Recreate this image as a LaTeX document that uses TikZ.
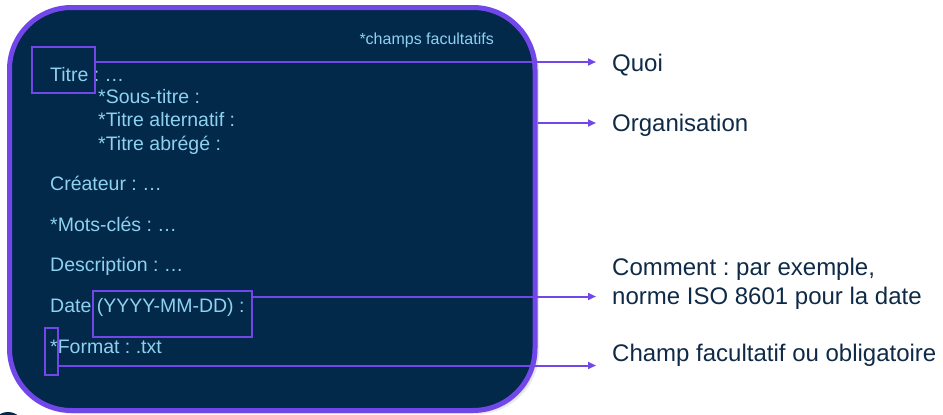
\documentclass[tikz,border=0pt]{standalone}
\usepackage{fontspec}
\setmainfont{Liberation Sans}
\usetikzlibrary{arrows.meta}
\definecolor{navy}{HTML}{02284A}
\definecolor{lblue}{HTML}{8ED2F0}
\definecolor{violet}{HTML}{7247EA}
\definecolor{ink}{HTML}{0E2A47}
\frenchspacing
\begin{document}
\begin{tikzpicture}[x=1pt,y=-1pt,
  lefttxt/.style={anchor=base west,inner sep=0pt,text=lblue,font=\fontsize{19.5}{23}\selectfont},
  righttxt/.style={anchor=base west,inner sep=0pt,text=ink,font=\fontsize{24}{29}\selectfont,align=left},
  hbox/.style={draw=violet,line width=2.2pt,inner sep=0pt},
  arr/.style={draw=violet,line width=2pt,-{Triangle[length=8pt,width=7pt]}}]
\clip (0,0) rectangle (943,415);
% shadow
\fill[black!25,opacity=0.35,rounded corners=62pt] (12.5,10.5) rectangle (539,414);
\fill[black!30,opacity=0.35,rounded corners=62pt] (11,9) rectangle (537.5,412.5);
% main panel
\node[draw=violet,fill=navy,line width=5pt,rounded corners=62pt,minimum width=525.5pt,minimum height=403pt,inner sep=0pt] (panel) at (272.25,209) {};
% small circle at bottom left
\fill[navy] (8,428) circle (16);
% texts in panel
\node[anchor=base east,inner sep=0pt,text=lblue,font=\fontsize{16}{19}\selectfont] (note) at (494,44) {*champs facultatifs};
\node[lefttxt] (titre) at (50,81.5) {Titre : …};
\node[lefttxt] (sous) at (98,103.3) {*Sous-titre :};
\node[lefttxt] (alt) at (98,126.7) {*Titre alternatif :};
\node[lefttxt] (abr) at (98,150) {*Titre abrégé :};
\node[lefttxt] (crea) at (50,190.7) {Créateur : …};
\node[lefttxt] (mots) at (50,231.7) {*Mots-clés : …};
\node[lefttxt] (desc) at (50,271) {Description : …};
\node[lefttxt] (date) at (50,312.3) {Date (YYYY-MM-DD) :};
\node[lefttxt] (fmt) at (50,353.3) {*Format : .txt};
% highlight boxes
\node[hbox,minimum width=63pt,minimum height=46pt] (bT) at (63.5,70) {};
\node[hbox,minimum width=159pt,minimum height=46pt] (bD) at (172.5,314) {};
\node[hbox,minimum width=13pt,minimum height=47pt] (bF) at (51.5,351.5) {};
% right texts
\node[righttxt] (quoi) at (612,71) {Quoi};
\node[righttxt] (orga) at (612,131) {Organisation};
\node[righttxt] (comm) at (612,275) {Comment : par exemple,};
\node[righttxt] (norme) at (612,304) {norme ISO 8601 pour la date};
\node[righttxt] (champ) at (612,361.5) {Champ facultatif ou obligatoire};
% arrow tips
\coordinate (tq) at (596,62);
\coordinate (to) at (596,123);
\coordinate (td) at (596,296.5);
\coordinate (tf) at (596,365.5);
\draw[arr] (bT.east |- tq) -- (tq);
\draw[arr] (panel.east |- to) -- (to);
\draw[arr] (bD.east |- td) -- (td);
\draw[arr] (bF.east |- tf) -- (tf);
\end{tikzpicture}
\end{document}
